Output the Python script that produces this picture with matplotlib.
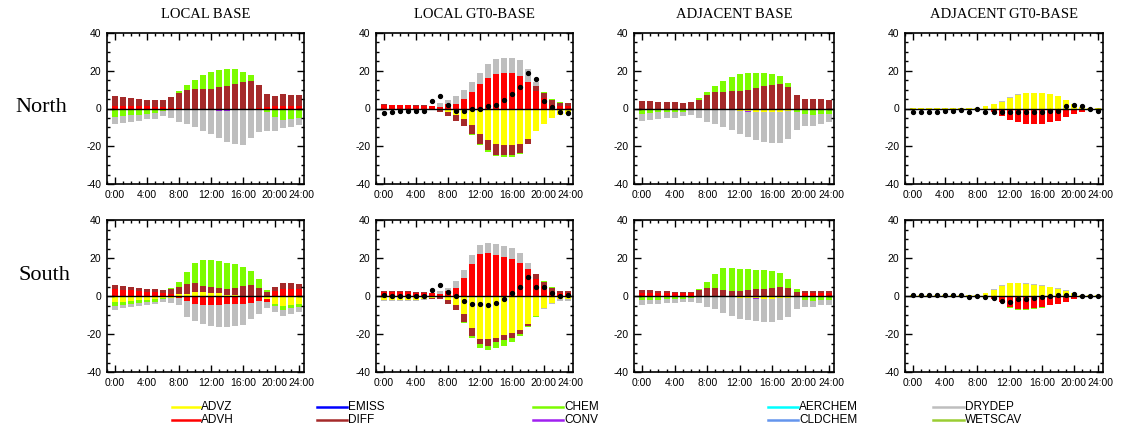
import numpy as np
import matplotlib.pyplot as plt
import matplotlib.transforms as mtransforms
from matplotlib.lines import Line2D
from matplotlib.ticker import MultipleLocator, FixedLocator

hours = np.arange(24)
tick_pos = [0, 4, 8, 12, 16, 20, 23]
tick_labels = ['0:00', '4:00', '8:00', '12:00', '16:00', '20:00', '24:00']
ytick_vals = [-40, -20, 0, 20, 40]
ytick_labels = ['-40', '-20', '0', '20', '40']

titles = ['LOCAL BASE', 'LOCAL GT0-BASE', 'ADJACENT BASE', 'ADJACENT GT0-BASE']
rows = ['North', 'South']

# ---- LOCAL BASE, North
ln_advz = [-0.2,-0.2,-0.2,-0.2,-0.2,-0.2,-0.2,-0.3,-0.3,-0.3,-0.4,-0.5,-0.6,-0.8,-1.0,-1.0,-1.0,-0.6,-0.3,-0.2,-0.2,-0.2,-0.2,-0.2]
ln_advh = [1.3,1.3,1.3,1.3,1.2,1.0,0.8,0.5,0.2,0,0,0,0,0,0,0,0,0,0.3,1.0,1.2,1.3,1.3,1.3]
ln_diff = [5.2,4.7,4.1,3.8,3.5,3.4,3.6,5.5,7.9,9.6,10.2,10.5,10.5,11.4,11.9,13.0,14.0,14.4,12.0,6.9,5.5,6.4,6.1,5.7]
ln_chem = [-4.2,-3.8,-3.3,-3.0,-2.8,-2.4,-1.0,0.0,1.0,2.7,5.1,7.0,8.8,9.0,8.8,7.7,5.6,3.1,0.3,-1.9,-4.2,-5.9,-5.4,-4.7]
ln_conv = [0,0,0,0,0,0,0,0,0,0,0,0,0,-0.3,-0.3,0,0,0,0,0,0,0,0,0]
ln_drydep = [-4.0,-3.5,-3.5,-3.3,-2.8,-2.7,-2.7,-4.6,-6.7,-8.1,-9.2,-11.4,-12.9,-14.7,-16.2,-17.8,-18.3,-15.2,-12.0,-9.8,-7.5,-4.4,-4.0,-3.9]

# ---- LOCAL GT0-BASE, North
lgn_advz = [-0.9,-0.9,-0.9,-0.9,-0.8,-0.8,-0.9,-0.5,-2.1,-3.2,-5.3,-8.8,-13.3,-16.8,-18.6,-19.5,-19.5,-18.6,-15.9,-12.0,-8.0,-4.8,-3.5,-2.7]
lgn_advh = [2.1,1.8,1.8,1.8,1.4,1.4,1.2,0.9,2.3,2.3,5.0,8.8,12.9,16.3,18.1,18.9,18.6,17.2,14.2,9.4,5.3,1.8,1.2,1.2]
lgn_diff = [0.3,0.3,0.3,0.3,0.3,0.3,0,-1.3,-2.1,-3.5,-3.9,-4.6,-5.3,-5.3,-5.8,-5.3,-5.3,-5.0,-2.7,2.5,3.0,2.6,1.8,1.5]
lgn_chem = [0,0,0,0,0,0,0,0,0,0,0,-0.7,-0.5,-0.9,-0.7,-1.1,-0.9,-0.5,-0.3,0,0.3,0.6,0.7,0]
lgn_drydep = [0,0,0,0,0,0,0,1.8,2.1,4.4,4.7,5.0,6.0,7.1,7.9,8.0,8.3,8.5,6.7,1.9,0,0,0,0]
lgn_net = [-2.3,-1.9,-1.4,-1.4,-1.4,-1.1,3.9,6.7,1.8,-1.4,-1.1,-0.5,-0.4,1.2,1.8,4.4,7.6,11.5,18.6,15.8,3.9,0.9,-1.9,-2.5]

# ---- ADJACENT BASE, North
an_advz = [-0.3,-0.3,-0.3,-0.3,-0.3,-0.3,-0.3,-0.3,-0.5,-0.7,-0.8,-1.0,-1.2,-1.5,-1.6,-1.8,-1.8,-1.6,-1.2,-0.8,-0.3,-0.3,-0.3,-0.3]
an_diff = [4.2,4.1,3.7,3.2,3.2,2.8,3.2,4.6,7.1,8.5,8.8,9.4,9.4,9.9,10.8,11.7,12.6,12.9,11.5,7.1,5.0,5.0,5.0,4.4]
an_chem = [-2.4,-2.3,-1.8,-1.3,-1.3,-1.3,-0.3,0.9,1.6,3.5,5.9,7.4,8.8,9.0,8.1,6.9,5.6,4.1,2.0,-1.0,-2.4,-3.1,-2.4,-2.4]
an_conv = [0,0,0,0,0,0,0,0,0,0,0,0,0,-0.3,-0.3,-0.3,-0.3,-0.3,0,0,0,0,0,0]
an_drydep = [-3.8,-3.6,-3.6,-3.5,-3.2,-2.6,-2.9,-4.8,-6.4,-7.6,-8.9,-10.2,-12.1,-13.2,-14.9,-15.6,-16.0,-16.2,-15.1,-9.4,-6.5,-5.8,-5.6,-4.7]

# ---- ADJACENT GT0-BASE, North
agn_advz = [0.3,0.3,0.3,0.3,0.3,0.3,0.3,0.3,0.5,1.4,2.3,3.7,5.8,7.3,8.0,8.1,8.0,7.6,6.5,4.4,2.3,0.9,0.5,0.3]
agn_advh = [-0.4,-0.4,-0.4,-0.4,-0.4,-0.4,-0.4,-0.4,-0.4,-0.9,-1.6,-3.9,-6.2,-7.4,-8.1,-8.3,-8.0,-7.1,-6.5,-4.4,-2.7,-1.6,-0.9,-0.4]
agn_drydep = [0,0,0,0,0,0,0,0,0,0,0,0.3,0.3,0.3,0.3,0.3,0.3,0.3,0.3,0,0,0,0,0]
agn_net = [-1.8,-1.6,-1.6,-1.6,-1.2,-1.2,-0.9,-1.8,-0.4,-2.1,-1.8,-1.6,-1.8,-1.8,-2.1,-1.8,-1.6,-1.2,-1.2,1.4,1.9,1.1,-0.5,-1.1]

# ---- LOCAL BASE, South
ls_advz = [-3.2,-3.0,-2.6,-2.3,-1.9,-1.8,-1.2,-0.9,0.9,1.2,2.1,2.1,1.4,1.4,0.5,0.3,0,0,-0.5,-1.5,-4.4,-5.3,-4.7,-4.4]
ls_advh = [3.9,3.2,3.0,2.6,2.1,2.1,1.8,0.9,-1.2,-2.6,-4.0,-4.7,-4.7,-4.7,-4.4,-4.4,-4.0,-3.5,-2.3,-1.5,2.6,3.5,3.9,3.9]
ls_diff = [1.9,1.9,1.7,1.8,1.6,1.6,1.5,2.8,3.8,5.3,4.9,3.2,3.3,2.8,3.4,4.1,5.1,5.6,4.4,2.3,2.1,3.5,3.1,2.2]
ls_chem = [-2.1,-1.7,-1.6,-1.4,-1.4,-1.4,-0.5,0.5,2.7,6.1,10.2,13.6,14.2,14.2,13.6,12.3,10.2,7.6,4.4,0.9,-0.9,-2.1,-1.8,-1.4]
ls_conv = [0,0,0,0,0,0,0,0,0,0,0,0,0,0,0,0,-0.3,-0.3,0,0,0,0,0,0]
ls_drydep = [-2.1,-1.8,-1.8,-1.7,-1.6,-1.2,-1.6,-3.0,-3.7,-8.5,-9.2,-10.2,-11.1,-11.6,-11.9,-11.6,-10.9,-8.5,-6.7,-3.1,-3.1,-3.1,-3.1,-2.6]

# ---- LOCAL GT0-BASE, South
lgs_advz = [-2.0,-2.0,-2.0,-1.9,-1.9,-1.8,-1.2,-0.5,-2.3,-4.7,-9.6,-17.0,-22.5,-22.8,-21.9,-20.7,-19.3,-17.8,-14.5,-10.6,-6.2,-3.5,-1.8,-1.8]
lgs_advh = [2.0,2.0,2.0,1.9,1.8,1.8,1.6,1.2,2.6,4.4,9.3,16.7,21.9,22.8,21.6,20.5,19.3,17.3,14.2,8.8,5.3,2.1,1.4,1.4]
lgs_diff = [0.5,0.5,0.5,0.5,0.4,0.4,-0.3,-1.3,-1.7,-2.8,-3.9,-4.0,-2.9,-3.5,-2.1,-2.6,-2.6,-2.0,-1.4,2.7,2.3,2.3,1.3,1.3]
lgs_chem = [0,0,0,0,0,0,0,0,0,0,-0.5,-0.9,-2.1,-2.3,-3.2,-3.0,-2.3,-1.2,-0.4,-0.5,0.4,0.4,0,0]
lgs_drydep = [-0.5,-0.5,-0.5,-0.5,-0.5,-0.5,0,1.4,1.8,3.5,4.6,4.7,4.9,5.3,5.6,6.0,6.0,5.2,3.1,0,-0.9,-0.9,-0.9,-0.9]
lgs_net = [0.4,0,0,0,0,0,3.3,5.8,2.3,0,-2.6,-4.4,-4.0,-4.9,-3.5,-1.4,1.4,4.6,10.1,5.0,5.0,1.8,0,0.7]

# ---- ADJACENT BASE, South
as_advz = [-0.7,-0.7,-0.7,-0.7,-0.7,-0.7,-0.7,-0.7,-0.3,-0.3,-0.4,-0.6,-0.8,-1.0,-1.2,-1.4,-1.4,-1.2,-0.8,-0.5,-0.7,-0.7,-0.7,-0.7]
as_advh = [1.4,1.4,1.4,1.4,1.4,1.4,1.4,0,0,0,0,0,0,0,0,0,0,0,0,0,1.4,1.4,1.4,1.4]
as_diff = [1.6,1.6,1.4,1.4,0.9,0.7,0.7,3.2,4.1,4.4,3.2,2.8,2.8,3.2,3.5,3.9,4.4,5.0,4.1,2.3,1.1,1.3,1.3,1.3]
as_chem = [-1.4,-1.3,-1.2,-1.1,-1.0,-0.8,-0.3,0.7,3.5,7.3,11.5,12.2,11.5,11.0,10.3,9.7,8.9,7.0,4.7,1.2,-1.4,-2.0,-1.5,-1.4]
as_conv = [0,0,0,0,0,0,0,0,0,0,0,0,0,-0.3,-0.3,-0.3,-0.3,0,0,0,0,0,0,0]
as_drydep = [-2.7,-2.4,-2.2,-2.1,-1.8,-1.7,-2.0,-3.2,-5.4,-6.8,-8.3,-10.0,-11.1,-11.4,-11.8,-11.9,-11.9,-11.5,-10.5,-6.2,-3.9,-3.0,-2.6,-2.7]

# ---- ADJACENT GT0-BASE, South
ags_advz = [0.3,0.3,0.3,0.3,0.3,0.3,0.3,0.3,0.5,1.4,3.2,5.3,6.7,6.7,6.4,5.8,5.5,4.6,3.9,2.8,1.4,0.5,0.3,0.3]
ags_advh = [-0.3,-0.3,-0.3,-0.3,-0.3,-0.3,-0.3,-0.3,-0.3,-0.7,-1.8,-3.0,-5.7,-6.9,-6.9,-6.5,-6.0,-4.8,-4.2,-3.0,-1.8,-0.7,-0.3,-0.3]
ags_chem = [0,0,0,0,0,0,0,0,0,0,0,0,-0.4,-0.4,-0.4,-0.4,-0.4,0,0,0,0,0,0,0]
ags_drydep = [0,0,0,0,0,0,0,0,0,0,0.4,0.4,0.4,0.4,0.4,0.4,0.4,0.4,0.4,0.4,0,0,0,0]
ags_net = [0.3,0.3,0.3,0.3,0.3,0.3,0.3,-0.4,0,-0.4,-1.2,-2.5,-3.0,-1.8,-1.6,-1.2,-0.7,0,0.4,0.5,1.1,0.2,0,0]

colors = {
    'ADVZ': '#ffff00', 'ADVH': '#ff0000', 'EMISS': '#0000ff', 'DIFF': '#a52a2a',
    'CHEM': '#7cfc00', 'CONV': '#a020f0', 'AERCHEM': '#00ffff', 'CLDCHEM': '#6495ed',
    'DRYDEP': '#bebebe', 'WETSCAV': '#9acd32',
}

panels = [
    [('ADVZ', ln_advz), ('ADVH', ln_advh), ('DIFF', ln_diff), ('CHEM', ln_chem), ('CONV', ln_conv), ('DRYDEP', ln_drydep)],
    [('ADVZ', lgn_advz), ('ADVH', lgn_advh), ('DIFF', lgn_diff), ('CHEM', lgn_chem), ('DRYDEP', lgn_drydep)],
    [('ADVZ', an_advz), ('DIFF', an_diff), ('CHEM', an_chem), ('CONV', an_conv), ('DRYDEP', an_drydep)],
    [('ADVZ', agn_advz), ('ADVH', agn_advh), ('DRYDEP', agn_drydep)],
    [('ADVZ', ls_advz), ('ADVH', ls_advh), ('DIFF', ls_diff), ('CHEM', ls_chem), ('CONV', ls_conv), ('DRYDEP', ls_drydep)],
    [('ADVZ', lgs_advz), ('ADVH', lgs_advh), ('DIFF', lgs_diff), ('CHEM', lgs_chem), ('DRYDEP', lgs_drydep)],
    [('ADVZ', as_advz), ('ADVH', as_advh), ('DIFF', as_diff), ('CHEM', as_chem), ('CONV', as_conv), ('DRYDEP', as_drydep)],
    [('ADVZ', ags_advz), ('ADVH', ags_advh), ('CHEM', ags_chem), ('DRYDEP', ags_drydep)],
]
nets = [None, lgn_net, None, agn_net, None, lgs_net, None, ags_net]

W, H = 1126, 434
fig = plt.figure(figsize=(W / 100, H / 100), dpi=100)
sans = 'Liberation Sans'
serif = 'Liberation Serif'

col_x = [(107, 304), (376, 573), (634, 834), (905, 1103)]
row_y = [(33, 184), (220, 372)]

for k in range(8):
    r, c = divmod(k, 4)
    x0, x1 = col_x[c]
    y0, y1 = row_y[r]
    ax = fig.add_axes([x0 / W, 1 - y1 / H, (x1 - x0) / W, (y1 - y0) / H])
    pos = np.zeros(24)
    neg = np.zeros(24)
    for name, vals in panels[k]:
        v = np.array(vals, dtype=float)
        up = np.where(v > 0, v, 0)
        dn = np.where(v < 0, v, 0)
        ax.bar(hours, up, 0.74, bottom=pos, color=colors[name], linewidth=0)
        ax.bar(hours, dn, 0.74, bottom=neg, color=colors[name], linewidth=0)
        pos += up
        neg += dn
    ax.axhline(0, color='black', lw=1.0, zorder=5)
    if nets[k] is not None:
        ax.plot(hours, nets[k], 'o', color='black', ms=2.8, zorder=6)
    ax.set_xlim(-1, 23.6)
    ax.set_ylim(-40, 40)
    ax.xaxis.set_major_locator(FixedLocator(tick_pos))
    ax.xaxis.set_minor_locator(MultipleLocator(1))
    ax.set_xticklabels(tick_labels)
    ax.set_yticks(ytick_vals)
    ax.set_yticklabels(ytick_labels)
    ax.yaxis.set_minor_locator(MultipleLocator(5))
    ax.tick_params(which='both', direction='in', top=True, right=True, width=1)
    ax.tick_params(which='major', length=5, labelsize=7.5, pad=4)
    ax.tick_params(which='minor', length=2.5)
    for lab in ax.get_xticklabels() + ax.get_yticklabels():
        lab.set_fontfamily(sans)
    # nudge the last two hour labels apart a little, they sit one bar closer
    xl = ax.get_xticklabels()
    xl[-1].set_transform(xl[-1].get_transform() + mtransforms.ScaledTranslation(2 / 100, 0, fig.dpi_scale_trans))
    xl[-2].set_transform(xl[-2].get_transform() + mtransforms.ScaledTranslation(-1 / 100, 0, fig.dpi_scale_trans))
    for s in ax.spines.values():
        s.set_linewidth(1.2)
    if r == 0:
        fig.text((x0 + x1) / 2 / W, 1 - 15 / H, titles[c], ha='center', va='center',
                 fontsize=10.5, family=serif)

fig.text(41 / W, 1 - 108 / H, rows[0], ha='center', va='center', fontsize=16, family=serif)
fig.text(44 / W, 1 - 275 / H, rows[1], ha='center', va='center', fontsize=16, family=serif)

# legend drawn in figure pixels
legend_cols = [(172, 200, ['ADVZ', 'ADVH']), (317, 347, ['EMISS', 'DIFF']),
               (533, 563, ['CHEM', 'CONV']), (768, 798, ['AERCHEM', 'CLDCHEM']),
               (933, 964, ['DRYDEP', 'WETSCAV'])]
for lx0, lx1, names in legend_cols:
    for j, name in enumerate(names):
        yy = 1 - (407 + 13 * j) / H
        fig.add_artist(Line2D([lx0 / W, lx1 / W], [yy, yy], color=colors[name], lw=1.8,
                              transform=fig.transFigure))
        fig.text((lx1 + 1) / W, yy, name, ha='left', va='center', fontsize=8.5, family=sans)

fig.savefig('out.png', dpi=100)
